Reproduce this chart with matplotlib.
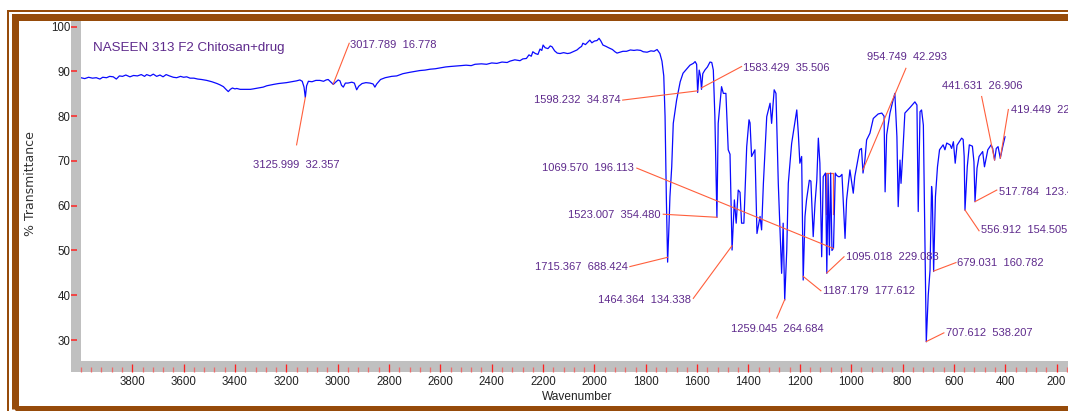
import numpy as np
import matplotlib
matplotlib.use('Agg')
import matplotlib.pyplot as plt
from matplotlib import font_manager
from matplotlib.patches import Rectangle
from matplotlib.ticker import FixedLocator, MultipleLocator

names = {f.name for f in font_manager.fontManager.ttflist}
NARROW = 'Liberation Sans Narrow' if 'Liberation Sans Narrow' in names else 'Liberation Sans'

# spectrum (wavenumber, %T)
wavenumber = [4000, 3985, 3970, 3955, 3940, 3926, 3915, 3900, 3888, 3874, 3862, 3850, 3838, 3825, 3809,
              3795, 3780, 3765, 3752, 3744, 3730, 3718, 3705, 3692, 3680, 3668, 3655, 3640, 3627, 3612,
              3600, 3588, 3575, 3560, 3545, 3530, 3510, 3490, 3470, 3458, 3445, 3435, 3426, 3418, 3410,
              3400, 3393, 3380, 3360, 3340, 3329, 3310, 3290, 3276, 3250, 3230, 3199, 3180, 3160, 3147,
              3138, 3131, 3126, 3121, 3114, 3100, 3085, 3069, 3055, 3045, 3037, 3026, 3017, 3008, 2998,
              2991, 2985, 2978, 2970, 2960, 2945, 2935, 2926, 2918, 2905, 2890, 2874, 2862, 2855, 2848,
              2833, 2815, 2790, 2770, 2746, 2720, 2700, 2680, 2660, 2640, 2620, 2600, 2580, 2563, 2540,
              2520, 2500, 2480, 2465, 2440, 2420, 2400, 2380, 2360, 2340, 2329, 2310, 2290, 2279, 2265,
              2255, 2246, 2240, 2230, 2220, 2212, 2205, 2200, 2192, 2181, 2172, 2165, 2155, 2145, 2134,
              2120, 2105, 2095, 2080, 2068, 2058, 2050, 2045, 2035, 2025, 2018, 2010, 2000, 1990, 1982,
              1975, 1967, 1955, 1945, 1930, 1920, 1912, 1900, 1889, 1875, 1860, 1846, 1834, 1820, 1810,
              1795, 1780, 1768, 1756, 1745, 1737, 1730, 1725, 1720, 1715, 1710, 1706, 1699, 1693, 1680,
              1666, 1655, 1640, 1628, 1615, 1608, 1602, 1598, 1592, 1587, 1583, 1578, 1570, 1560, 1550,
              1543, 1537, 1531, 1523, 1518, 1505, 1498, 1488, 1479, 1472, 1468, 1464, 1455, 1448, 1440,
              1433, 1427, 1418, 1407, 1398, 1394, 1388, 1375, 1367, 1355, 1349, 1342, 1329, 1316, 1310,
              1300, 1293, 1284, 1271, 1265, 1259, 1251, 1245, 1232, 1212, 1206, 1200, 1193, 1187, 1180,
              1174, 1163, 1157, 1148, 1141, 1134, 1128, 1122, 1115, 1109, 1100, 1095, 1090, 1085, 1080,
              1075, 1069, 1062, 1057, 1050, 1044, 1036, 1024, 1018, 1005, 992, 986, 975, 967, 960,
              954, 947, 940, 927, 914, 895, 881, 872, 868, 862, 849, 840, 830, 822, 817,
              810, 806, 801, 791, 770, 752, 744, 739, 732, 726, 719, 713, 707.6, 700, 693,
              687, 684, 679, 672, 664, 656, 642, 635, 628, 615, 609, 602, 595, 588, 570,
              564, 560, 556.9, 548, 540, 528, 522, 517.8, 510, 502, 488, 481, 468, 455, 449,
              441.6, 435, 428, 419.4, 410, 401]
transmittance = [88.6, 88.4, 88.7, 88.5, 88.6, 88.3, 88.7, 88.6, 88.9, 88.8, 88.3, 89.0, 88.9, 89.2, 88.8,
                 89.1, 89.0, 89.3, 88.9, 89.3, 89.0, 89.4, 88.9, 89.2, 88.8, 89.3, 89.0, 88.7, 88.6, 88.9,
                 88.7, 88.8, 88.5, 88.5, 88.3, 88.2, 88.0, 87.7, 87.3, 87.0, 86.6, 86.0, 85.5, 86.0, 86.3,
                 86.1, 86.2, 86.0, 86.0, 86.0, 86.1, 86.3, 86.5, 86.8, 87.1, 87.3, 87.5, 87.7, 87.9, 88.1,
                 87.8, 86.5, 84.2, 86.8, 87.8, 87.7, 88.0, 88.0, 87.8, 88.1, 88.2, 87.6, 87.1, 87.6, 88.1,
                 87.9, 86.9, 86.5, 87.4, 87.4, 87.6, 87.4, 85.9, 86.7, 87.3, 87.5, 87.4, 87.2, 86.5, 87.2,
                 88.2, 88.6, 88.9, 89.0, 89.5, 89.8, 90.0, 90.2, 90.3, 90.5, 90.6, 90.8, 91.0, 91.1, 91.2,
                 91.3, 91.4, 91.3, 91.6, 91.7, 91.6, 91.9, 91.8, 92.1, 92.0, 92.3, 92.6, 92.4, 92.8, 92.9,
                 93.7, 93.4, 94.4, 94.0, 93.8, 95.0, 94.7, 95.9, 95.3, 95.1, 95.7, 95.5, 94.6, 94.1, 94.0,
                 94.2, 94.0, 94.1, 94.5, 94.8, 95.3, 95.6, 96.3, 96.0, 96.6, 97.0, 96.4, 96.8, 96.9, 97.4,
                 96.8, 95.9, 95.6, 95.3, 94.9, 94.4, 94.1, 94.3, 94.5, 94.5, 94.8, 94.7, 94.8, 94.7, 94.4,
                 94.3, 94.6, 94.5, 94.9, 94.0, 92.3, 89.0, 80.0, 62.0, 47.4, 55.0, 62.0, 68.7, 78.4, 83.6,
                 87.7, 89.6, 90.6, 91.4, 91.8, 92.2, 91.6, 85.3, 90.3, 89.0, 86.0, 89.5, 90.3, 91.0, 92.1,
                 92.0, 90.3, 80.0, 57.4, 78.4, 86.6, 85.1, 85.1, 72.5, 71.5, 60.5, 50.1, 61.3, 56.1, 63.5,
                 63.0, 56.1, 56.1, 73.2, 79.2, 78.5, 71.0, 72.5, 53.8, 57.6, 54.6, 65.0, 79.9, 82.9, 78.4,
                 85.9, 85.1, 65.0, 44.9, 56.1, 38.9, 50.1, 65.0, 73.9, 81.4, 76.2, 69.5, 71.0, 43.4, 57.6,
                 61.3, 65.7, 65.5, 53.1, 60.5, 65.7, 75.1, 69.5, 48.6, 66.5, 67.3, 44.9, 67.0, 49.0, 67.3,
                 50.0, 50.5, 67.3, 66.8, 66.5, 66.5, 67.0, 52.7, 61.3, 68.0, 62.8, 66.5, 70.0, 72.5, 72.8,
                 67.3, 70.0, 74.7, 76.2, 79.5, 80.5, 80.7, 80.0, 63.1, 75.8, 80.7, 82.9, 85.1, 75.4, 59.8,
                 70.2, 65.0, 69.8, 80.7, 82.0, 83.2, 82.5, 58.7, 81.0, 81.4, 78.0, 53.0, 29.6, 40.0, 45.6,
                 64.3, 62.0, 45.3, 62.0, 68.7, 72.5, 73.6, 72.5, 74.0, 73.6, 72.8, 74.3, 69.5, 73.5, 75.1,
                 74.8, 71.0, 59.0, 68.7, 73.6, 73.3, 69.8, 60.9, 68.4, 71.0, 72.1, 68.7, 72.5, 73.6, 72.8,
                 70.2, 72.8, 73.2, 70.6, 73.2, 75.4]

# picked peaks: wavenumber and the second number printed next to it
peak_wn = [3017.789, 3125.999, 1598.232, 1583.429, 954.749, 441.631, 419.449, 517.784, 556.912,
           679.031, 707.612, 1095.018, 1187.179, 1259.045, 1464.364, 1715.367, 1523.007, 1069.570]
peak_val = ['16.778', '32.357', '34.874', '35.506', '42.293', '26.906', '22.7', '123.42', '154.505',
            '160.782', '538.207', '229.083', '177.612', '264.684', '134.338', '688.424', '354.480', '196.113']

# label layout: leader end (wn, %T), text anchor (wn, %T), horizontal alignment
lead_end = [(2955, 96.3), (3160, 73.6), (1890, 83.6), (1427, 91.1), (787, 90.7), (492, 84.4),
            (388, 81.5), (433, 63.5), (502, 54.4), (592, 47.3), (639, 31.6), (1028, 48.6),
            (1118, 41.0), (1290, 34.9), (1615, 39.3), (1862, 46.4), (1732, 58.1), (1835, 68.4)]
text_at = [(2952, 95.9), (3160, 69.1), (1897, 83.6), (1421, 90.8), (784, 93.2), (491, 86.8),
           (378, 81.4), (426, 63.1), (495, 54.6), (587, 47.1), (631, 31.6), (1020, 48.6),
           (1111, 41.0), (1289, 32.4), (1625, 38.9), (1869, 46.4), (1741, 57.9), (1846, 68.4)]
text_ha = ['left', 'center', 'right', 'left', 'center', 'center', 'left', 'left', 'left',
           'left', 'left', 'left', 'left', 'center', 'right', 'right', 'right', 'right']

W, H = 1068, 411
BROWN = '#964B0A'
PURPLE = '#5E2A8C'
ORANGE = '#FF5F3C'
GRAY = '#C0C0C0'
PT = 0.72  # points per pixel at dpi 100

fig = plt.figure(figsize=(W / 100, H / 100), dpi=100)
fig.patch.set_facecolor('white')


def fr(x, y):
    return x / W, 1 - y / H


# axes box in pixels: left 80.9, right 1082.3 (wn 100), top 21, bottom 361
ax = fig.add_axes([80.9 / W, 1 - 361 / H, (1082.3 - 80.9) / W, (361 - 21) / H])
ax.set_xlim(4000, 100)
ax.set_ylim(25.31, 101.27)
for s in ax.spines.values():
    s.set_visible(False)
ax.spines['left'].set_position(('outward', 9.9 * PT))
ax.spines['bottom'].set_position(('outward', 11 * PT))

# gray L-shaped frame under the ticks
fig.add_artist(Rectangle(fr(71, 372), 9.9 / W, (372 - 21) / H, transform=fig.transFigure,
                         facecolor=GRAY, edgecolor='none', zorder=-1))
fig.add_artist(Rectangle(fr(71, 372), (W + 20 - 71) / W, 11 / H, transform=fig.transFigure,
                         facecolor=GRAY, edgecolor='none', zorder=-1))

ax.yaxis.set_major_locator(FixedLocator(np.arange(30, 101, 10)))
ax.xaxis.set_major_locator(FixedLocator(np.arange(200, 3801, 200)))
ax.xaxis.set_minor_locator(MultipleLocator(40))
ax.tick_params(axis='y', direction='in', length=6 * PT, width=1.5 * PT, color='#FF2020',
               pad=0.5, labelsize=8.3, labelcolor='#222222')
ax.tick_params(axis='x', which='major', direction='in', length=8 * PT, width=1.3 * PT,
               color='#FF2020', pad=3, labelsize=8.3, labelcolor='#222222')
ax.tick_params(axis='x', which='minor', direction='in', length=5 * PT, width=1.3 * PT,
               color='#F06A6A')
for lab in ax.get_xticklabels() + ax.get_yticklabels():
    lab.set_family(NARROW)

ax.plot(wavenumber, transmittance, color='#0A0AFF', lw=0.9, zorder=3)

# picked-peak bracket around 1095-1069
ax.plot([1099, 1099, 1072, 1072], [58.2, 67.3, 67.3, 58.2], color=ORANGE, lw=0.9, zorder=2)

wn_sorted = np.array(wavenumber)[::-1]
t_sorted = np.array(transmittance)[::-1]
for wn, val, (ex, ey), (tx, ty), ha in zip(peak_wn, peak_val, lead_end, text_at, text_ha):
    ty0 = np.interp(wn, wn_sorted, t_sorted)
    ax.plot([wn, ex], [ty0, ey], color=ORANGE, lw=0.8, zorder=4, clip_on=False)
    ax.text(tx, ty, f'{wn:.3f}  {val}', ha=ha, va='center', fontsize=8, color=PURPLE,
            family=NARROW, clip_on=False, zorder=5)

fig.text(*fr(93, 48), 'NASEEN 313 F2 Chitosan+drug', fontsize=9.6, color=PURPLE,
         family=NARROW, va='center', ha='left')
fig.text(*fr(30, 184), '% Transmittance', rotation=90, ha='center', va='center',
         fontsize=9, color='#333333', family='DejaVu Sans')
fig.text(*fr(577, 397), 'Wavenumber', ha='center', va='center', fontsize=8.6,
         color='#222222', family=NARROW)

# brown double frame (right and bottom run off the picture)
fig.add_artist(Rectangle(fr(8, 430), (W + 40) / W, (430 - 11) / H, transform=fig.transFigure,
                         fill=False, edgecolor=BROWN, lw=2 * PT, zorder=10))
fig.add_artist(Rectangle(fr(15, 408.5), (W + 40) / W, (408.5 - 17.5) / H, transform=fig.transFigure,
                         fill=False, edgecolor=BROWN, lw=7 * PT, zorder=10))

fig.savefig('out.png', dpi=100)
